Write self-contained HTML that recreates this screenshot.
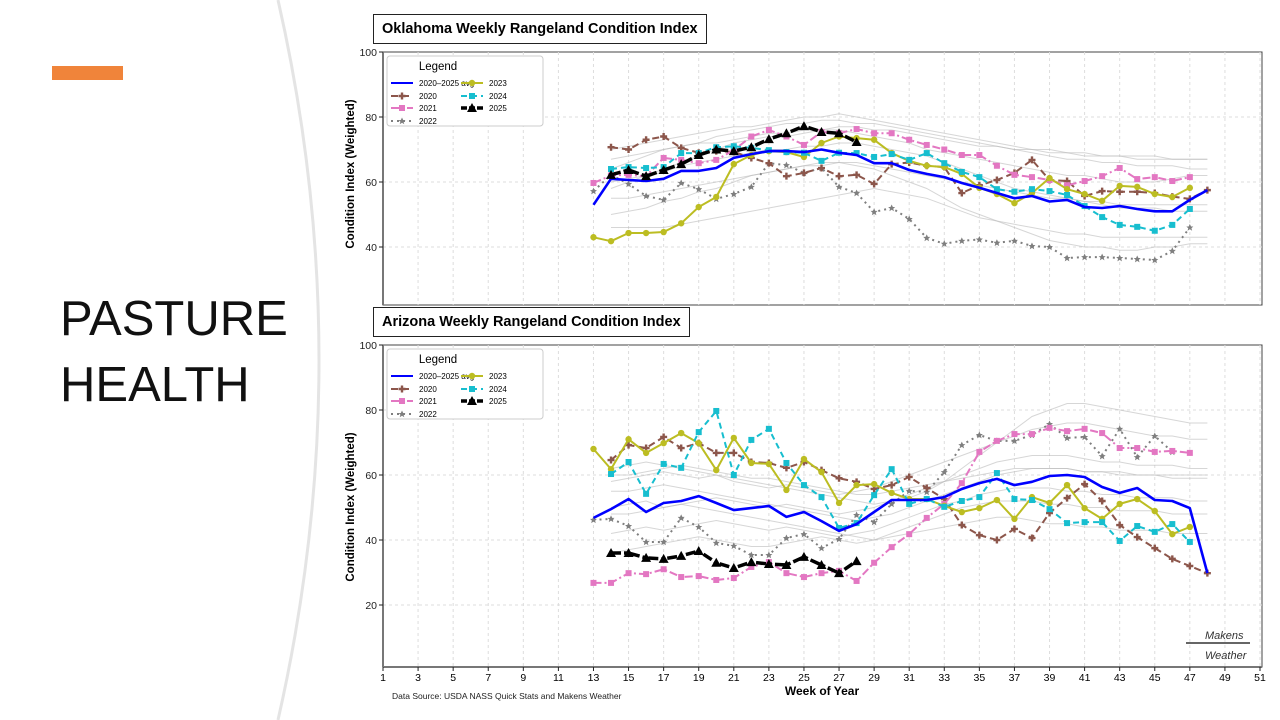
<!DOCTYPE html>
<html><head><meta charset="utf-8">
<style>
body{margin:0;width:1280px;height:720px;overflow:hidden;background:#fff;font-family:"Liberation Sans",sans-serif;position:relative}
.ttl{position:absolute;border:1.5px solid #222;background:#fff;font-weight:bold;font-size:14.5px;padding:0 8px;line-height:28px;white-space:nowrap}
</style></head><body>
<svg width="1280" height="720" style="position:absolute;left:0;top:0">
<path d="M278,0 Q360,360 278,720" fill="none" stroke="#e4e4e4" stroke-width="3"/>
</svg>
<div style="position:absolute;left:52px;top:66px;width:71px;height:14px;background:#f0843a"></div>
<div style="position:absolute;left:60px;top:286px;font-size:49px;line-height:66px;color:#111">PASTURE<br>HEALTH</div>
<svg id="ch" width="1280" height="720" style="position:absolute;left:0;top:0"></svg>
<div class="ttl" style="left:373px;top:14px">Oklahoma Weekly Rangeland Condition Index</div>
<div class="ttl" style="left:373px;top:307px">Arizona Weekly Rangeland Condition Index</div>
<script>
const weeks=[13,14,15,16,17,18,19,20,21,22,23,24,25,26,27,28,29,30,31,32,33,34,35,36,37,38,39,40,41,42,43,44,45,46,47,48];
// Oklahoma (top)
const okAvg=[53,61,60.6,60.3,61,63.4,63.4,64.3,67.4,68.6,69.5,69.5,69.2,70,69,68.3,65.8,65.8,63.7,62.5,61.5,59.7,58.2,56.6,55,55.7,54,54.5,52.3,52,52.6,51.7,51,51,54.5,57.5];
const ok2020=[null,70.7,70,73,74,70.5,69,69.5,69.3,67.4,65.8,61.8,62.8,64.3,61.8,62.2,59.4,65.5,66,65,64.6,56.6,59,60.6,62.8,66.8,60.6,60.3,55.7,57.2,57,57,56.6,55.5,54.8,57.5];
const ok2021=[59.7,62,62.2,61.8,67.4,66.8,65.8,66.8,69.8,74,76,74,71.4,75.4,75,76.3,75,75,73,71.4,70,68.3,68.3,65,62.2,61.5,60.6,59,60.3,61.8,64.3,60.9,61.5,60.3,61.5,null];
const ok2022=[57.2,62.2,59.4,55.7,54.5,59.7,57.8,54.8,56.3,58.5,65.8,65.2,62.8,64.3,58.5,56.6,50.8,52,48.6,42.8,41,41.9,42.3,41.3,41.9,40.3,40,36.6,36.9,36.9,36.6,36.3,36,38.8,46,null];
const ok2023=[43,41.8,44.3,44.3,44.6,47.3,52.3,55.4,65.5,68.3,69.5,69.2,67.7,72,74,73.5,73,68.9,66.5,65,64.6,62.5,58.2,56.3,53.5,56.6,61.2,57.8,56.3,54.2,58.8,58.5,56.3,55.4,58.2,null];
const ok2024=[null,64,64.6,64.3,64.6,68.9,68.9,70.7,71,70.5,69.8,69.2,69,66.5,69,68.9,67.7,68.6,66.8,68.9,65.8,63.1,61.5,57.8,57,57.8,57.2,56,52.6,49.2,46.8,46.2,45,46.8,51.7,null];
const ok2025=[null,62.2,63.7,61.8,63.7,65.5,68.3,70,69.5,70.7,73.2,75,77.2,75.4,75,72.3];
const okHist=[
[64,66,68,70,71,72,74,75,76,77,78,78,79,79,78,78,77,76,75,74,73,72,71,70,69,68,67,67,66,66,65,65,65,64,64],
[58,60,62,64,66,68,70,72,73,74,74,75,76,76,75,74,73,72,70,69,68,67,66,65,64,63,62,62,61,60,60,60,61,62,62],
[50,51,52,54,55,57,58,60,62,63,64,65,66,66,65,64,62,60,58,55,52,50,48,46,44,42,41,40,40,39,39,40,40,41,41],
[67,68,69,70,71,72,72,73,74,75,75,76,76,77,77,76,76,75,74,73,72,71,71,70,70,69,69,68,68,68,67,67,67,67,67],
[55,55,56,57,58,59,60,61,62,63,64,65,65,66,66,65,64,63,62,61,60,59,58,57,56,55,55,54,54,53,53,53,53,53,53],
[46,46,46,46,47,48,49,50,51,52,53,54,55,56,57,58,57,56,55,53,51,49,48,47,46,45,44,44,43,43,43,43,43,43,43],
[70,71,72,73,74,75,76,77,77,78,79,80,80,81,80,79,78,77,76,75,74,73,72,71,70,70,69,69,68,68,68,68,67,67,67],
[60,61,62,63,65,66,67,68,69,70,70,71,71,72,72,71,70,69,68,66,64,62,60,58,57,56,55,54,53,52,52,52,51,51,51]];
// Arizona (bottom)
const azAvg=[46.8,49.5,52.6,48.6,51.4,52,53.5,51.4,49.2,49.8,50.5,47.1,48.6,45.8,42.8,44.9,48.6,52.3,52.3,52.3,53.2,55.7,57.5,58.8,56.9,57.9,59.7,60,59.4,56.3,54.5,56,52.3,52,49.8,29.8];
const az2020=[null,64.6,69.2,68.3,71.7,68.3,69.8,66.8,66.8,64,63.7,62.2,64,61.5,59,57.9,55.7,56.9,59.4,56,52.6,44.6,41.5,40,43.4,40.6,48.3,52.9,57.2,52,44.6,40.9,37.5,34.2,32,29.8];
const az2021=[26.8,26.8,29.8,29.5,31,28.6,28.9,27.7,28.3,31.7,33.2,29.8,28.6,29.8,30.5,27.4,33,37.8,41.8,46.8,51.1,57.5,67.1,70.5,72.6,72.6,74.5,73.5,74.2,72.9,68.3,68.3,67.1,67.4,66.8,null];
const az2022=[46.2,46.5,44.3,39.4,39.4,46.8,44,39.1,38.2,35.4,35.4,40.6,41.8,37.5,40.3,47.7,45.5,51.1,55.1,54.8,60.9,69.2,72.3,70.5,70.5,72.3,75.7,71.4,71.7,65.8,74.2,65.5,72,67.1,null,null];
const az2023=[68,61.8,71,66.8,69.8,72.9,69.8,61.5,71.4,63.7,63.4,55.4,64.9,60.9,51.4,56.9,57.2,54.5,52.6,52.6,50.5,48.6,49.8,52.3,46.5,53.2,51.4,56.9,49.8,46.5,51.1,52.6,48.9,41.8,44,null];
const az2024=[null,60.3,64,54.2,63.4,62.2,73.2,79.7,60,70.8,74.2,63.7,56.9,53.2,43.7,45.2,53.8,61.8,51.1,52.6,50.2,52,53.2,60.6,52.6,52.3,49.5,45.2,45.5,45.5,39.7,44.3,42.5,44.9,39.4,null];
const az2025=[null,36,36,34.5,34.2,35.1,36.6,33,31.4,33.2,32.6,32.3,34.8,32.3,29.8,33.5];
const azHist=[
[58,59,60,61,60,59,60,58,57,56,57,56,55,54,55,56,58,60,62,64,66,68,70,72,74,75,76,76,75,74,73,72,72,71,71],
[50,51,52,50,51,52,53,52,51,50,51,50,49,48,49,50,52,54,56,58,60,62,64,65,66,66,66,65,64,64,63,63,63,62,62],
[42,43,44,43,44,45,46,45,44,43,44,43,42,41,42,43,45,47,49,51,52,54,55,56,56,56,55,55,54,54,53,53,53,52,52],
[55,55,56,57,56,55,54,53,52,51,50,49,48,47,46,47,48,50,52,54,56,58,60,61,62,62,62,61,61,60,60,60,59,59,59],
[36,37,38,39,40,41,40,39,38,38,39,40,41,40,39,40,42,44,46,48,50,51,52,52,52,51,51,50,50,49,49,49,48,48,48],
[62,63,64,63,62,61,60,59,58,57,56,55,54,53,52,51,52,53,55,58,62,66,70,74,78,80,82,82,81,80,79,78,77,76,76],
[48,48,49,50,51,50,49,48,47,46,45,44,43,42,41,40,41,42,43,44,45,46,47,47,46,45,45,44,44,43,43,43,42,42,42],
[60,60,61,62,63,62,61,60,59,59,58,57,56,55,54,54,55,56,57,58,59,60,61,62,62,62,62,61,61,61,60,60,60,60,60]];

const NS='http://www.w3.org/2000/svg';
const svg=document.getElementById('ch');
function mk(tag,attrs,parent){const e=document.createElementNS(NS,tag);for(const k in attrs)e.setAttribute(k,attrs[k]);(parent||svg).appendChild(e);return e;}
const X0=383,X1=1262;
function xs(w){return X0+(w-1)*(X1-2-X0)/50;}

function drawChart(top,bottom,name,avg,s20,s21,s22,s23,s24,s25,hist,showX){
  const ys=v=>top+(100-v)*3.25;
  const g=mk('g',{});
  
  
  const cid='clip'+name;
  const cp=mk('clipPath',{id:cid},g);mk('rect',{x:X0,y:top,width:X1-X0,height:bottom-top},cp);
  mk('rect',{x:X0,y:top,width:X1-X0,height:bottom-top,fill:'#fff',stroke:'#444','stroke-width':1},g);
  const pg=mk('g',{'clip-path':'url(#'+cid+')'},g);
  for(let w=1;w<=51;w+=2){mk('line',{x1:xs(w),x2:xs(w),y1:top,y2:bottom,stroke:'#ddd','stroke-dasharray':'3,3'},pg);}
  for(let v=20;v<100;v+=20){const y=ys(v);if(y<bottom){mk('line',{x1:X0,x2:X1,y1:y,y2:y,stroke:'#ddd','stroke-dasharray':'3,3'},pg);}}
  mk('line',{x1:X0,x2:X0,y1:top,y2:bottom,stroke:'#777','stroke-width':2},g);
  if(showX)mk('line',{x1:X0,x2:X1,y1:bottom,y2:bottom,stroke:'#777','stroke-width':2},g);
  for(let v=0;v<=100;v+=20){const y=ys(v);if(y<=bottom-5){const t=mk('text',{x:377,y:y+4,'text-anchor':'end','font-size':10.5,fill:'#222'},g);t.textContent=v;
    mk('line',{x1:X0-4,x2:X0,y1:y,y2:y,stroke:'#222'},g);}}
  const yt=mk('text',{x:0,y:0,'font-size':11.5,'font-weight':'bold','text-anchor':'middle',transform:`translate(354,${top+(showX?162:122)}) rotate(-90)`},g);
  yt.textContent='Condition Index (Weighted)';
  
  
  function path(arr,startW){let d='';arr.forEach((v,i)=>{if(v==null)return;d+=(d?'L':'M')+xs(startW+i).toFixed(1)+','+ys(v).toFixed(1);});return d;}
  hist.forEach(h=>{const p=mk('path',{d:path(h,14),fill:'none',stroke:'#bbb','stroke-width':1,opacity:0.6},pg);
    
    });
  function marker(type,x,y,c,par){
    if(type==='circle')mk('circle',{cx:x,cy:y,r:3.2,fill:c},par);
    else if(type==='square')mk('rect',{x:x-3,y:y-3,width:6,height:6,fill:c},par);
    else if(type==='tri')mk('path',{d:`M${x},${y-5}L${x+5},${y+4}L${x-5},${y+4}Z`,fill:c},par);
    else if(type==='plus')mk('path',{d:`M${x-3.5},${y}L${x+3.5},${y}M${x},${y-3.5}L${x},${y+3.5}`,stroke:c,'stroke-width':2.4},par);
    else if(type==='star')mk('path',{d:`M${x},${y-3.5}L${x+1.2},${y-1}L${x+3.5},${y-1}L${x+1.6},${y+0.8}L${x+2.3},${y+3.3}L${x},${y+1.8}L${x-2.3},${y+3.3}L${x-1.6},${y+0.8}L${x-3.5},${y-1}L${x-1.2},${y-1}Z`,fill:c},par);
  }
  function series(arr,nm,c,wd,dash,mtype){
    const sg=mk('g',{},pg);
    
    
    mk('path',{d:path(arr,13),fill:'none',stroke:c,'stroke-width':wd,'stroke-dasharray':dash||'none','stroke-linejoin':'round'},sg);
    if(mtype)arr.forEach((v,i)=>{if(v!=null)marker(mtype,xs(13+i),ys(v),c,sg);});
  }
  series(s22,'series-2022','#7f7f7f',2,'2,4','star');
  series(s20,'series-2020','#8c564b',2,'7,4','plus');
  series(s21,'series-2021','#e377c2',2,'8,3,2,3','square');
  series(s23,'series-2023','#bcbd22',2,null,'circle');
  series(s24,'series-2024','#17becf',2,'6,4','square');
  series(avg,'series-avg','#0000ff',2.6,null,null);
  series(s25,'series-2025','#000',3.5,'10,3,3,3','tri');
  // legend
  const lg=mk('g',{},g);
  
  
  const L=top+4;
  mk('rect',{x:387,y:L,width:156,height:70,fill:'#fff',stroke:'#ccc',rx:3},lg);
  const lt=mk('text',{x:438,y:L+14,'font-size':11.5,'text-anchor':'middle'},lg);lt.textContent='Legend';
  const items=[['2020–2025 avg','#0000ff',null,null,391,27],['2020','#8c564b','7,4','plus',391,40],['2021','#e377c2','8,3,2,3','square',391,52],['2022','#7f7f7f','2,4','star',391,65],
    ['2023','#bcbd22',null,'circle',461,27],['2024','#17becf','6,4','square',461,40],['2025','#000','6,2','tri',461,52]];
  items.forEach(it=>{const y=L+it[5];
    mk('line',{x1:it[4],x2:it[4]+22,y1:y,y2:y,stroke:it[1],'stroke-width':it[0]==='2025'?3.5:2,'stroke-dasharray':it[2]||'none'},lg);
    if(it[3])marker(it[3],it[4]+11,y,it[1],lg);
    const t=mk('text',{x:it[4]+28,y:y+3,'font-size':8},lg);t.textContent=it[0];});
  if(showX){
    for(let w=1;w<=51;w+=2){mk('line',{x1:xs(w),x2:xs(w),y1:bottom,y2:bottom+4,stroke:'#222'},g);
      const t=mk('text',{x:xs(w),y:bottom+14,'font-size':10.5,'text-anchor':'middle'},g);t.textContent=w;}
    const xt=mk('text',{x:822,y:bottom+28,'font-size':12,'font-weight':'bold','text-anchor':'middle'},g);xt.textContent='Week of Year';
    
    
  }
}
drawChart(52,305,'oklahoma-chart',okAvg,ok2020,ok2021,ok2022,ok2023,ok2024,ok2025,okHist,false);
drawChart(345,667,'arizona-chart',azAvg,az2020,az2021,az2022,az2023,az2024,az2025,azHist,true);
const ds=mk('text',{x:392,y:699,'font-size':8.5,fill:'#222'});ds.textContent='Data Source: USDA NASS Quick Stats and Makens Weather';


const lgo=mk('g',{});


mk('path',{d:'M1186,643 L1250,643',stroke:'#333','stroke-width':1.5},lgo);
const l1=mk('text',{x:1205,y:639,'font-size':11,'font-style':'italic',fill:'#333'},lgo);l1.textContent='Makens';
const l2=mk('text',{x:1205,y:659,'font-size':11,'font-style':'italic',fill:'#333'},lgo);l2.textContent='Weather';
</script>
</body></html>
